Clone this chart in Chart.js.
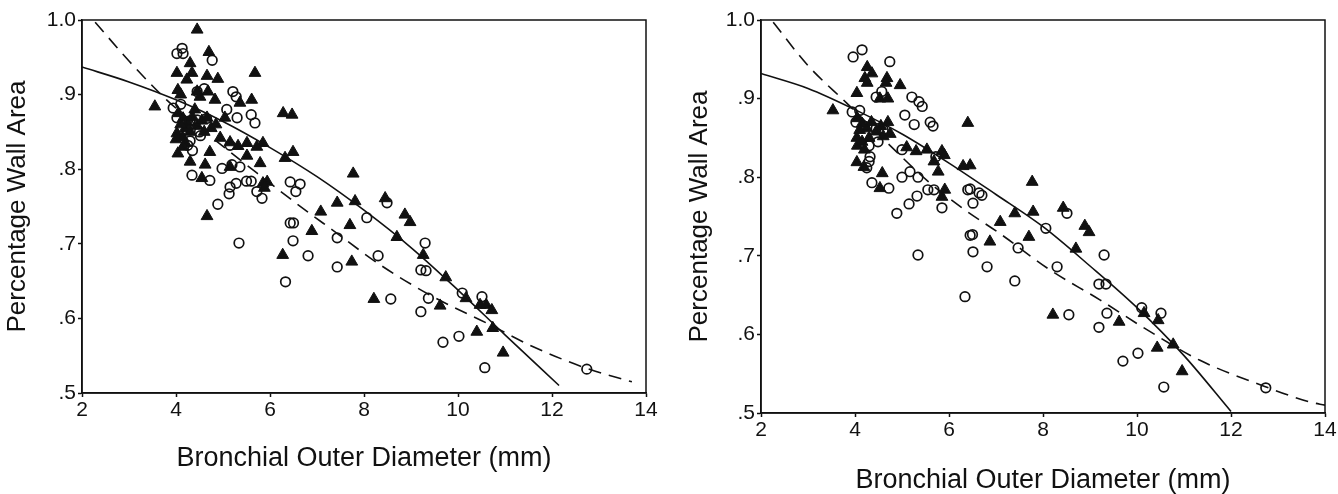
<!DOCTYPE html>
<html>
<head>
<meta charset="utf-8">
<script src="https://cdn.jsdelivr.net/npm/chart.js@4.4.1/dist/chart.umd.min.js"></script>
<style>
  body { margin: 0; background: #fff; }
  .wrap { position: relative; width: 1338px; height: 494px; }
  canvas { position: absolute; top: 0; }
  #left { left: 0; }
  #right { left: 670px; }
</style>
</head>
<body>
<div class="wrap">
  <canvas id="left" width="670" height="494"></canvas>
  <canvas id="right" width="668" height="494"></canvas>
</div>
<script>
// axis ticks
const xTicks = [2, 4, 6, 8, 10, 12, 14];
const yTicks = [0.5, 0.6, 0.7, 0.8, 0.9, 1.0];
const yTickLabels = ['.5', '.6', '.7', '.8', '.9', '1.0'];
const xTitle = 'Bronchial Outer Diameter (mm)';
const yTitle = 'Percentage Wall Area';

// left panel: [diameter, wall area]
const leftTriangles = [
  [4.45,0.987],[4.70,0.957],[4.30,0.942],[4.02,0.929],[4.34,0.929],[4.66,0.925],[4.89,0.921],[4.23,0.920],
  [5.68,0.929],[4.04,0.906],[4.10,0.900],[4.45,0.904],[4.68,0.904],[4.51,0.897],[4.83,0.893],[3.55,0.884],
  [5.61,0.893],[5.36,0.889],[6.28,0.875],[6.47,0.873],[4.66,0.869],[5.04,0.869],[4.02,0.848],[4.14,0.843],
  [4.94,0.842],[5.15,0.836],[5.51,0.835],[5.85,0.835],[5.32,0.831],[5.72,0.830],[4.04,0.821],[4.72,0.823],
  [6.49,0.823],[6.32,0.815],[4.30,0.810],[5.51,0.818],[5.79,0.808],[4.62,0.806],[5.94,0.783],[4.55,0.788],
  [5.15,0.803],[4.05,0.875],[4.15,0.868],[4.25,0.862],[4.35,0.870],[4.45,0.858],[4.55,0.865],[4.75,0.855],
  [4.20,0.855],[4.10,0.860],[4.30,0.850],[4.60,0.850],[4.00,0.840],[4.20,0.835],[4.40,0.880],[4.85,0.860],
  [4.15,0.830],[5.85,0.781],[5.88,0.775],[4.66,0.737],[6.27,0.685],[6.89,0.717],[7.08,0.743],[7.43,0.755],
  [7.77,0.794],[7.81,0.757],[7.70,0.725],[7.74,0.676],[8.45,0.761],[8.87,0.739],[8.98,0.729],[8.70,0.709],
  [8.21,0.626],[9.26,0.685],[9.74,0.655],[9.62,0.617],[10.17,0.627],[10.47,0.618],[10.60,0.618],[10.72,0.611],
  [10.40,0.582],[10.74,0.587],[10.96,0.554]
];
const leftCircles = [
  [4.13,0.962],[4.15,0.955],[4.02,0.955],[4.77,0.946],[4.45,0.904],[4.60,0.908],[5.21,0.904],[5.28,0.897],
  [3.94,0.882],[4.10,0.887],[5.08,0.880],[5.30,0.869],[5.60,0.873],[5.68,0.862],[4.02,0.869],[4.30,0.865],
  [4.45,0.866],[4.65,0.868],[4.50,0.850],[4.52,0.845],[4.30,0.838],[4.35,0.825],[4.25,0.832],[5.15,0.832],
  [4.98,0.801],[5.19,0.806],[5.36,0.803],[4.34,0.792],[4.72,0.785],[5.15,0.776],[5.28,0.781],[5.50,0.784],
  [5.60,0.784],[5.72,0.770],[6.43,0.783],[6.64,0.780],[6.55,0.770],[4.89,0.753],[5.13,0.767],[5.83,0.761],
  [5.34,0.701],[6.43,0.728],[6.50,0.728],[6.49,0.704],[6.33,0.649],[6.81,0.684],[7.43,0.708],[7.43,0.669],
  [8.06,0.735],[8.49,0.755],[8.30,0.684],[8.57,0.626],[9.30,0.701],[9.21,0.665],[9.32,0.664],[9.37,0.627],
  [9.21,0.609],[10.09,0.634],[10.51,0.629],[10.02,0.576],[9.68,0.568],[10.57,0.534],[12.74,0.532]
];
const leftSolidX = [2, 3, 4, 5, 6, 7, 8, 9, 10, 11, 12.15];
const leftSolidY = [0.937, 0.917, 0.893, 0.864, 0.829, 0.790, 0.745, 0.695, 0.638, 0.578, 0.510];
const leftDashX = [2.28, 3, 3.8, 4.5, 5.72, 6.5, 7.34, 8.34, 9.47, 10.6, 11.6, 12.74, 13.7];
const leftDashY = [0.997, 0.945, 0.893, 0.856, 0.795, 0.757, 0.718, 0.672, 0.629, 0.594, 0.562, 0.533, 0.515];

// right panel
const rightTriangles = [
  [4.26,0.940],[4.36,0.932],[4.21,0.926],[4.26,0.920],[4.68,0.926],[4.66,0.920],[4.96,0.917],[4.04,0.907],
  [4.53,0.900],[4.70,0.900],[3.53,0.885],[6.40,0.869],[4.04,0.850],[5.10,0.838],[5.30,0.833],[5.53,0.835],
  [5.85,0.833],[5.90,0.828],[5.68,0.820],[4.04,0.819],[4.19,0.813],[6.30,0.814],[6.45,0.815],[4.58,0.805],
  [5.77,0.807],[4.53,0.786],[5.91,0.784],[5.85,0.775],[4.05,0.875],[4.15,0.868],[4.25,0.862],[4.35,0.870],
  [4.45,0.858],[4.55,0.865],[4.70,0.870],[4.75,0.855],[4.10,0.860],[4.30,0.850],[4.60,0.852],[4.05,0.840],
  [4.20,0.835],[4.15,0.845],[6.87,0.718],[7.09,0.743],[7.40,0.754],[7.77,0.794],[7.79,0.756],[7.70,0.724],
  [8.43,0.761],[8.89,0.738],[8.98,0.730],[8.70,0.709],[8.21,0.625],[9.62,0.616],[10.15,0.627],[10.45,0.618],
  [10.43,0.583],[10.77,0.587],[10.96,0.553]
];
const rightCircles = [
  [3.96,0.953],[4.15,0.962],[4.74,0.947],[4.57,0.909],[4.45,0.902],[5.21,0.902],[5.36,0.896],[5.43,0.890],
  [3.94,0.883],[4.10,0.885],[5.06,0.879],[5.26,0.867],[5.60,0.870],[5.66,0.865],[4.49,0.845],[5.00,0.835],
  [5.72,0.826],[4.30,0.820],[4.25,0.812],[4.32,0.826],[5.00,0.800],[5.17,0.807],[5.34,0.800],[4.36,0.793],
  [4.72,0.786],[5.55,0.784],[5.68,0.784],[6.40,0.784],[6.64,0.780],[4.89,0.754],[5.15,0.766],[5.32,0.776],
  [5.85,0.761],[5.34,0.701],[6.45,0.785],[6.51,0.767],[6.70,0.777],[6.45,0.726],[6.50,0.727],[6.51,0.705],
  [6.34,0.648],[6.81,0.686],[7.47,0.710],[7.40,0.668],[8.51,0.754],[8.06,0.735],[8.30,0.686],[9.30,0.701],
  [9.19,0.664],[9.34,0.664],[8.55,0.625],[9.36,0.627],[9.19,0.609],[10.10,0.634],[10.51,0.627],[10.02,0.576],
  [9.70,0.566],[10.57,0.533],[12.74,0.532],[4.02,0.870],[4.20,0.865],[4.45,0.862],[4.60,0.860],[4.30,0.840]
];
const rightSolidX = [2, 3, 4, 5, 6, 7, 8, 9, 10, 11, 12];
const rightSolidY = [0.932, 0.913, 0.886, 0.855, 0.818, 0.778, 0.737, 0.687, 0.634, 0.573, 0.502];
const rightDashX = [2.26, 3, 3.83, 4.7, 5.53, 6.3, 7.09, 8.15, 9.21, 10.21, 11.34, 12.62, 13.68, 14];
const rightDashY = [0.997, 0.942, 0.894, 0.843, 0.796, 0.760, 0.728, 0.682, 0.644, 0.606, 0.567, 0.536, 0.514, 0.510];

const ink = '#111';
const font = 'Liberation Sans, Arial, Helvetica, sans-serif';

const frame = {
  id: 'frame',
  afterDraw(chart) {
    const { ctx, chartArea: a } = chart;
    ctx.save();
    ctx.strokeStyle = ink;
    ctx.lineWidth = 1.5;
    ctx.strokeRect(a.left, a.top, a.right - a.left, a.bottom - a.top);
    ctx.restore();
  }
};

const toPoints = (pairs) => pairs.map(([x, y]) => ({ x, y }));
const toLine = (xs, ys) => xs.map((x, i) => ({ x, y: ys[i] }));

function makeChart(id, tri, circ, solidX, solidY, dashX, dashY, box) {
  const ctx = document.getElementById(id).getContext('2d');
  return new Chart(ctx, {
    type: 'scatter',
    data: {
      datasets: [
        {
          data: toLine(solidX, solidY),
          showLine: true,
          borderColor: ink,
          borderWidth: 1.6,
          pointRadius: 0,
          cubicInterpolationMode: 'monotone',
          fill: false,
        },
        {
          data: toLine(dashX, dashY),
          showLine: true,
          borderColor: ink,
          borderWidth: 1.6,
          borderDash: [13, 8],
          pointRadius: 0,
          cubicInterpolationMode: 'monotone',
          fill: false,
        },
        {
          data: toPoints(circ),
          pointStyle: 'circle',
          pointRadius: 4.8,
          backgroundColor: 'rgba(0,0,0,0)',
          borderColor: ink,
          borderWidth: 1.7,
        },
        {
          data: toPoints(tri),
          pointStyle: 'triangle',
          pointRadius: 6.8,
          backgroundColor: ink,
          borderColor: ink,
          borderWidth: 1,
        },
      ]
    },
    options: {
      responsive: false,
      animation: false,
      devicePixelRatio: 1,
      layout: { padding: { top: box.top, right: box.right, left: 0, bottom: 0 } },
      plugins: {
        legend: { display: false },
        tooltip: { enabled: false },
      },
      scales: {
        x: {
          type: 'linear',
          min: xTicks[0],
          max: xTicks[xTicks.length - 1],
          afterBuildTicks: (s) => { s.ticks = xTicks.map(v => ({ value: v })); },
          afterFit: (s) => { s.height = box.xHeight; },
          border: { color: ink, width: 1.5 },
          grid: { drawOnChartArea: false, tickLength: 4, color: ink, tickWidth: 1.5 },
          ticks: { color: ink, padding: 1, font: { family: font, size: 21 } },
          title: {
            display: true, text: xTitle, color: ink,
            font: { family: font, size: 27, lineHeight: 1 },
            padding: { top: 0, bottom: box.xTitlePad },
          },
        },
        y: {
          type: 'linear',
          min: yTicks[0],
          max: yTicks[yTicks.length - 1],
          afterBuildTicks: (s) => { s.ticks = yTicks.map(v => ({ value: v })); },
          afterFit: (s) => { s.width = box.yWidth; },
          border: { color: ink, width: 1.5 },
          grid: { drawOnChartArea: false, tickLength: 4, color: ink, tickWidth: 1.5 },
          ticks: {
            color: ink, padding: 2, font: { family: font, size: 21 },
            callback: (v) => yTickLabels[Math.round((v - yTicks[0]) * 10)],
          },
          title: {
            display: true, text: yTitle, color: ink,
            font: { family: font, size: 26, lineHeight: 1 },
            padding: { top: box.yTitlePad, bottom: 0 },
          },
        },
      },
    },
    plugins: [frame],
  });
}

makeChart('left', leftTriangles, leftCircles, leftSolidX, leftSolidY, leftDashX, leftDashY,
  { top: 20, right: 24, xHeight: 101, yWidth: 82, xTitlePad: 22, yTitlePad: 5 });
makeChart('right', rightTriangles, rightCircles, rightSolidX, rightSolidY, rightDashX, rightDashY,
  { top: 20, right: 13, xHeight: 81, yWidth: 91, xTitlePad: 0, yTitlePad: 17 });
</script>
</body>
</html>
